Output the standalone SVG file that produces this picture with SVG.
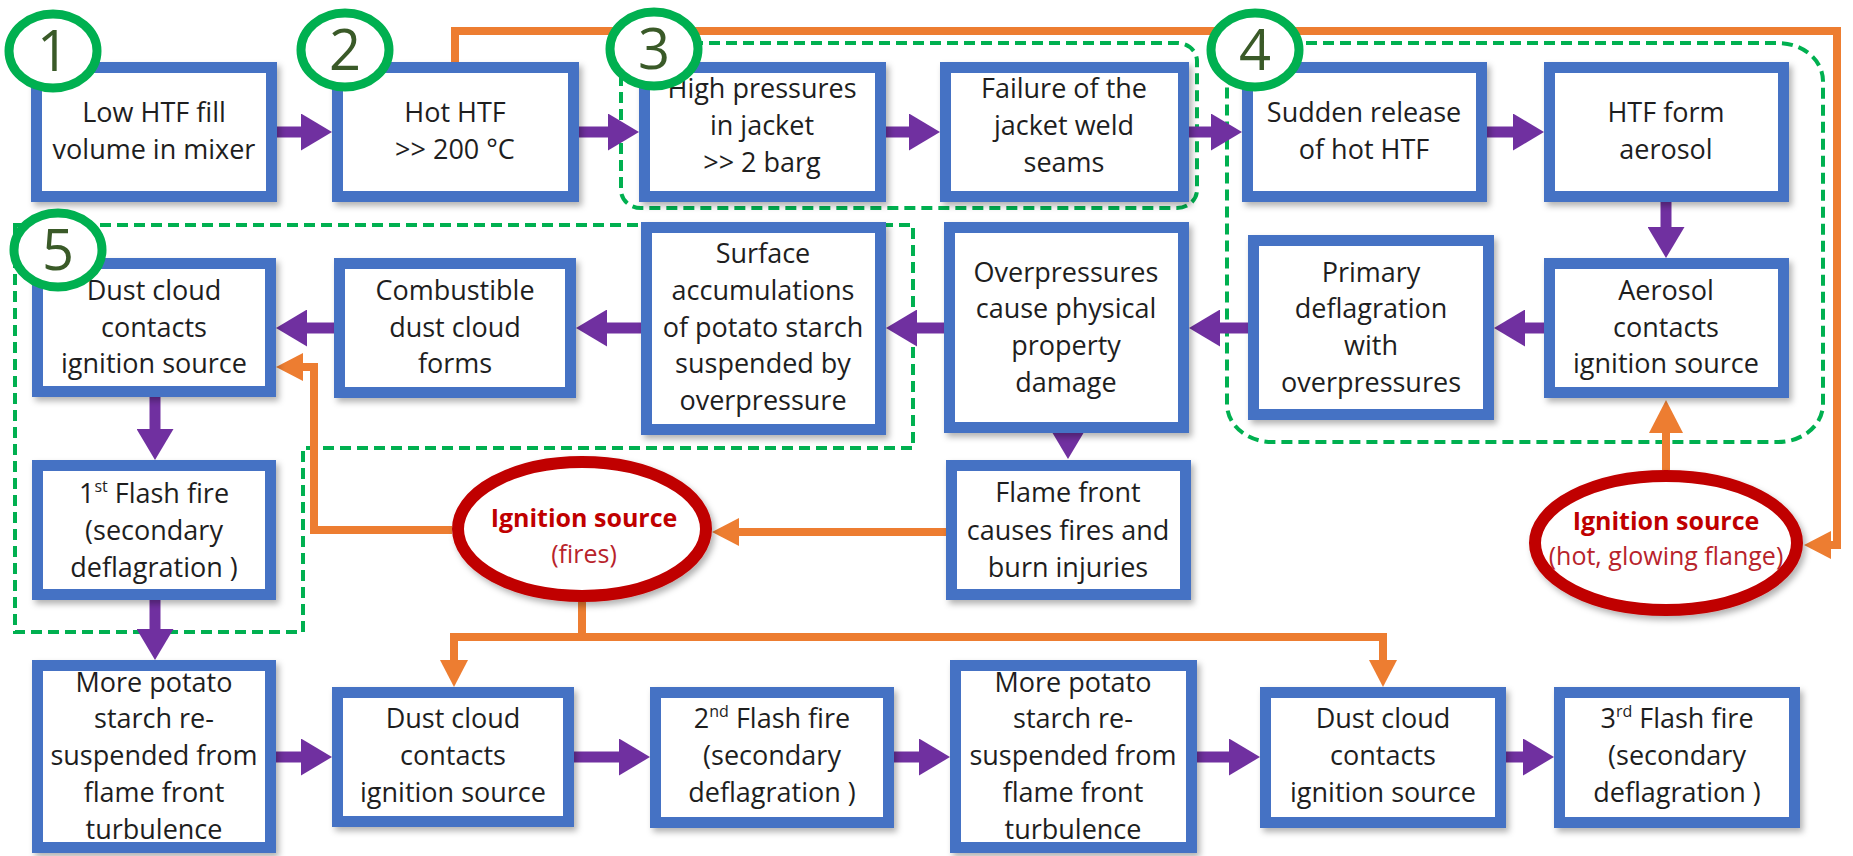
<svg xmlns="http://www.w3.org/2000/svg" width="1853" height="856" viewBox="0 0 1853 856">
<defs>
<style>
.box{fill:#fff;stroke:#4472C4;stroke-width:11;filter:url(#sh)}
.t{font-family:'Open Sans','Liberation Sans',sans-serif;font-size:27px;fill:#1e1e1e;text-anchor:middle}
.num{font-family:'Open Sans','Liberation Sans',sans-serif;font-size:56px;fill:#3A5A28;text-anchor:middle}
.badge{fill:#fff;stroke:#00B050;stroke-width:9}
.region{fill:none;stroke:#00B050;stroke-width:4;stroke-dasharray:11 6}
.pa{stroke:#7030A0;stroke-width:11;fill:none;marker-end:url(#ph)}
.oa{stroke:#ED7D31;stroke-width:8;fill:none}
.oam{stroke:#ED7D31;stroke-width:8;fill:none;marker-end:url(#oh)}
.ign{fill:#fff;stroke:#C00000;stroke-width:12;filter:url(#sh)}
.it{font-family:'Open Sans','Liberation Sans',sans-serif;font-size:25px;text-anchor:middle}
.ib{font-weight:bold;fill:#C00000}
.ip{fill:#B8232B}
</style>
<marker id="ph" markerUnits="userSpaceOnUse" markerWidth="31" markerHeight="37" viewBox="0 0 31 37" refX="1" refY="18.5" orient="auto"><path d="M0,0 L31,18.5 L0,37 z" fill="#7030A0"/></marker>
<marker id="oh" markerUnits="userSpaceOnUse" markerWidth="27" markerHeight="28" viewBox="0 0 27 28" refX="1" refY="14" orient="auto"><path d="M0,0 L27,14 L0,28 z" fill="#ED7D31"/></marker>
<marker id="oh2" markerUnits="userSpaceOnUse" markerWidth="33" markerHeight="34" viewBox="0 0 33 34" refX="1" refY="17" orient="auto"><path d="M0,0 L33,17 L0,34 z" fill="#ED7D31"/></marker>
<filter id="sh" x="-10%" y="-10%" width="125%" height="125%"><feDropShadow dx="3" dy="4" stdDeviation="3" flood-color="#000" flood-opacity="0.3"/></filter>
</defs>
<rect width="1853" height="856" fill="#fff"/>

<g id="regions">
<rect class="region" x="621" y="43" width="576" height="165" rx="20" ry="18"/>
<rect class="region" x="1227" y="43" width="596" height="399" rx="45" ry="38"/>
<path class="region" d="M15,225 H913 V448 H303 V632 H15 Z"/>
</g>

<g id="connectors">
<path class="pa" d="M277,132 H302"/>
<path class="pa" d="M579,132 H609"/>
<path class="pa" d="M886,132 H910"/>
<path class="pa" d="M1189,132 H1212"/>
<path class="pa" d="M1487,132 H1514"/>
<path class="pa" d="M1666,202 V228"/>
<path class="pa" d="M1544,328 H1524"/>
<path class="pa" d="M1248,328 H1219"/>
<path class="pa" d="M944,328 H916"/>
<path class="pa" d="M641,328 H606"/>
<path class="pa" d="M334,328 H306"/>
<path class="pa" d="M1068,427 V429"/>
<path class="pa" d="M155,397 V430"/>
<path class="pa" d="M155,600 V630"/>
<path class="pa" d="M276,757 H302"/>
<path class="pa" d="M574,757 H620"/>
<path class="pa" d="M894,757 H920"/>
<path class="pa" d="M1197,757 H1230"/>
<path class="pa" d="M1506,757 H1524"/>
<path class="oam" d="M455,62 V31 H1837 V545 H1830"/>
<path class="oam" d="M946,532 H738"/>
<path class="oam" d="M452,530 H314 V367 H302"/>
<path class="oa" d="M582,602 V637"/>
<path class="oa" d="M450,637 H1387"/>
<path class="oam" d="M454,637 V661"/>
<path class="oam" d="M1383,637 V661"/>
<path class="oa" d="M1666,470 V432" marker-end="url(#oh2)"/>
</g>

<g id="n1"><rect class="box" x="36.5" y="67.5" width="235" height="129"/>
<text class="t"><tspan x="154" y="122">Low HTF fill</tspan><tspan x="154" y="159">volume in mixer</tspan></text></g>
<g id="n2"><rect class="box" x="337.5" y="67.5" width="236" height="129"/>
<text class="t"><tspan x="455" y="122">Hot HTF</tspan><tspan x="455" y="159">&gt;&gt; 200 °C</tspan></text></g>
<g id="n3"><rect class="box" x="644.5" y="67.5" width="236" height="129"/>
<text class="t"><tspan x="762" y="98">High pressures</tspan><tspan x="762" y="135">in jacket</tspan><tspan x="762" y="172">&gt;&gt; 2 barg</tspan></text></g>
<g id="n4"><rect class="box" x="945.5" y="67.5" width="238" height="129"/>
<text class="t"><tspan x="1064" y="98">Failure of the</tspan><tspan x="1064" y="135">jacket weld</tspan><tspan x="1064" y="172">seams</tspan></text></g>
<g id="n5"><rect class="box" x="1247.5" y="67.5" width="234" height="129"/>
<text class="t"><tspan x="1364" y="122">Sudden release</tspan><tspan x="1364" y="159">of hot HTF</tspan></text></g>
<g id="n6"><rect class="box" x="1549.5" y="67.5" width="234" height="129"/>
<text class="t"><tspan x="1666" y="122">HTF form</tspan><tspan x="1666" y="159">aerosol</tspan></text></g>

<g id="n7"><rect class="box" x="1549.5" y="263.5" width="234" height="129"/>
<text class="t"><tspan x="1666" y="300">Aerosol</tspan><tspan x="1666" y="337">contacts</tspan><tspan x="1666" y="373">ignition source</tspan></text></g>
<g id="n8"><rect class="box" x="1253.5" y="240.5" width="235" height="174"/>
<text class="t"><tspan x="1371" y="282">Primary</tspan><tspan x="1371" y="318">deflagration</tspan><tspan x="1371" y="355">with</tspan><tspan x="1371" y="392">overpressures</tspan></text></g>
<g id="n9"><rect class="box" x="949.5" y="227.5" width="234" height="200"/>
<text class="t"><tspan x="1066" y="282">Overpressures</tspan><tspan x="1066" y="318">cause physical</tspan><tspan x="1066" y="355">property</tspan><tspan x="1066" y="392">damage</tspan></text></g>
<g id="n10"><rect class="box" x="646.5" y="227.5" width="234" height="202"/>
<text class="t"><tspan x="763" y="263">Surface</tspan><tspan x="763" y="300">accumulations</tspan><tspan x="763" y="337">of potato starch</tspan><tspan x="763" y="373">suspended by</tspan><tspan x="763" y="410">overpressure</tspan></text></g>
<g id="n11"><rect class="box" x="339.5" y="263.5" width="231" height="129"/>
<text class="t"><tspan x="455" y="300">Combustible</tspan><tspan x="455" y="337">dust cloud</tspan><tspan x="455" y="373">forms</tspan></text></g>
<g id="n12"><rect class="box" x="37.5" y="263.5" width="233" height="128"/>
<text class="t"><tspan x="154" y="300">Dust cloud</tspan><tspan x="154" y="337">contacts</tspan><tspan x="154" y="373">ignition source</tspan></text></g>
<g id="n13"><rect class="box" x="37.5" y="465.5" width="233" height="129"/>
<text class="t"><tspan x="154" y="503">1<tspan font-size="16" dy="-11">st</tspan><tspan dy="11"> Flash fire</tspan></tspan><tspan x="154" y="540">(secondary</tspan><tspan x="154" y="577">deflagration )</tspan></text></g>
<g id="n14"><rect class="box" x="951.5" y="465.5" width="234" height="129"/>
<text class="t"><tspan x="1068" y="502">Flame front</tspan><tspan x="1068" y="540">causes fires and</tspan><tspan x="1068" y="577">burn injuries</tspan></text></g>

<g id="ign1"><ellipse class="ign" cx="582" cy="529" rx="124" ry="67"/>
<text class="it"><tspan class="ib" x="584" y="527">Ignition source</tspan><tspan class="ip" x="584" y="563">(fires)</tspan></text></g>
<g id="ign2"><ellipse class="ign" cx="1666" cy="543" rx="131" ry="67"/>
<text class="it"><tspan class="ib" x="1666" y="530">Ignition source</tspan><tspan class="ip" x="1666" y="565">(hot, glowing flange)</tspan></text></g>

<g id="n15"><rect class="box" x="37.5" y="665.5" width="233" height="182"/>
<text class="t"><tspan x="154" y="692">More potato</tspan><tspan x="154" y="728">starch re-</tspan><tspan x="154" y="765">suspended from</tspan><tspan x="154" y="802">flame front</tspan><tspan x="154" y="839">turbulence</tspan></text></g>
<g id="n16"><rect class="box" x="337.5" y="692.5" width="231" height="129"/>
<text class="t"><tspan x="453" y="728">Dust cloud</tspan><tspan x="453" y="765">contacts</tspan><tspan x="453" y="802">ignition source</tspan></text></g>
<g id="n17"><rect class="box" x="655.5" y="692.5" width="233" height="130"/>
<text class="t"><tspan x="772" y="728">2<tspan font-size="16" dy="-11">nd</tspan><tspan dy="11"> Flash fire</tspan></tspan><tspan x="772" y="765">(secondary</tspan><tspan x="772" y="802">deflagration )</tspan></text></g>
<g id="n18"><rect class="box" x="955.5" y="665.5" width="236" height="182"/>
<text class="t"><tspan x="1073" y="692">More potato</tspan><tspan x="1073" y="728">starch re-</tspan><tspan x="1073" y="765">suspended from</tspan><tspan x="1073" y="802">flame front</tspan><tspan x="1073" y="839">turbulence</tspan></text></g>
<g id="n19"><rect class="box" x="1265.5" y="692.5" width="235" height="130"/>
<text class="t"><tspan x="1383" y="728">Dust cloud</tspan><tspan x="1383" y="765">contacts</tspan><tspan x="1383" y="802">ignition source</tspan></text></g>
<g id="n20"><rect class="box" x="1559.5" y="692.5" width="235" height="130"/>
<text class="t"><tspan x="1677" y="728">3<tspan font-size="16" dy="-11">rd</tspan><tspan dy="11"> Flash fire</tspan></tspan><tspan x="1677" y="765">(secondary</tspan><tspan x="1677" y="802">deflagration )</tspan></text></g>

<g id="badge1"><ellipse class="badge" cx="53" cy="51" rx="44" ry="37"/><text class="num" x="53" y="71">1</text></g>
<g id="badge2"><ellipse class="badge" cx="345" cy="50" rx="44" ry="37"/><text class="num" x="345" y="70">2</text></g>
<g id="badge3"><ellipse class="badge" cx="654" cy="49" rx="44" ry="37"/><text class="num" x="654" y="69">3</text></g>
<g id="badge4"><ellipse class="badge" cx="1255" cy="50" rx="44" ry="37"/><text class="num" x="1255" y="70">4</text></g>
<g id="badge5"><ellipse class="badge" cx="58" cy="250" rx="44" ry="37"/><text class="num" x="58" y="270">5</text></g>
</svg>
